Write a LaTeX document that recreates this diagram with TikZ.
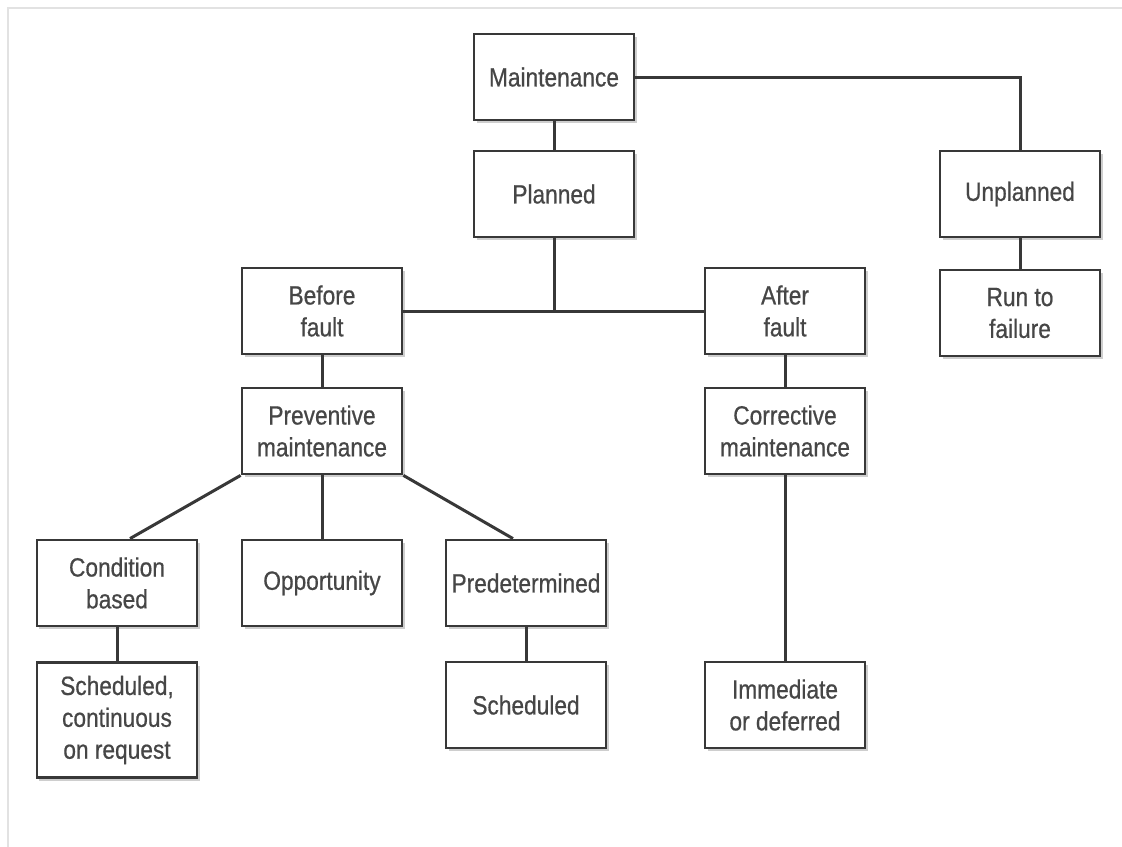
\documentclass[tikz,border=0pt]{standalone}
\usepackage{fontspec}
\setmainfont[FakeStretch=0.86,FakeBold=0.6]{Liberation Sans}
\usetikzlibrary{shadows}
\definecolor{ink}{HTML}{383838}
\definecolor{txt}{HTML}{464646}
\definecolor{frame}{HTML}{E2E2E2}
\begin{document}
\begin{tikzpicture}[x=1bp,y=-1bp,
  box/.style={draw=ink, line width=2.8bp, fill=white,
    minimum width=160bp, minimum height=86bp, inner sep=0pt,
    align=center, text=txt,
    font=\fontsize{26.5}{32}\selectfont,
    drop shadow={shadow xshift=2.5bp, shadow yshift=-3bp, fill=black!35, opacity=0.55}},
  link/.style={draw=ink, line width=3bp}]
\useasboundingbox (0,0) rectangle (1122,847);
\fill[white] (0,0) rectangle (1122,847);
% thin page frame
\draw[frame, line width=1.6bp] (8,847) -- (8,8) -- (1122,8);

% boxes
\node[box] (maint) at (554,77)  {Maintenance};
\node[box] (plan)  at (554,194) {Planned};
\node[box] (unpl)  at (1020,194) {Unplanned};
\node[box] (run)   at (1020,313) {Run to\\failure};
\node[box] (before) at (322,311) {Before\\fault};
\node[box] (after)  at (785,311) {After\\fault};
\node[box] (prev)  at (322,431) {Preventive\\maintenance};
\node[box] (corr)  at (785,431) {Corrective\\maintenance};
\node[box] (cond)  at (117,583) {Condition\\based};
\node[box] (opp)   at (322,583) {Opportunity};
\node[box] (pred)  at (526,583) {Predetermined};
\node[box, minimum height=115bp] (sched1) at (117,720) {Scheduled,\\continuous\\on request};
\node[box] (sched2) at (526,705) {Scheduled};
\node[box] (immed)  at (785,705) {Immediate\\or deferred};

% connectors
\coordinate (j) at (plan.south |- before.east);
\draw[link] (maint.east) -| (unpl.north);
\draw[link] (maint.south) -- (plan.north);
\draw[link] (plan.south) -- (j);
\draw[link] (before.east) -- (after.west);
\draw[link] (unpl.south) -- (run.north);
\draw[link] (before.south) -- (prev.north);
\draw[link] (after.south) -- (corr.north);
\draw[link] (corr.south) -- (immed.north);
\draw[link] (prev.south west) -- ([xshift=13bp]cond.north);
\draw[link] (prev.south) -- (opp.north);
\draw[link] (prev.south east) -- ([xshift=-13bp]pred.north);
\draw[link] (cond.south) -- (sched1.north);
\draw[link] (pred.south) -- (sched2.north);
\end{tikzpicture}
\end{document}
